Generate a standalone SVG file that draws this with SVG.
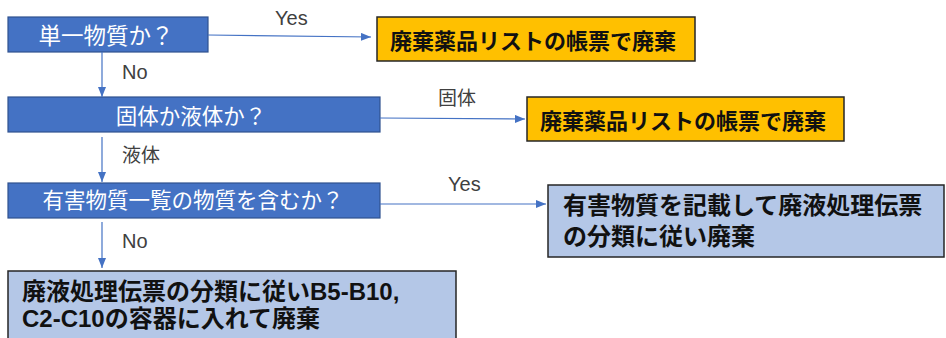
<svg xmlns="http://www.w3.org/2000/svg" width="946" height="338" viewBox="0 0 946 338">
<defs>
<marker id="ah" markerWidth="10" markerHeight="8" refX="10" refY="4" orient="auto" markerUnits="userSpaceOnUse">
<path d="M0,0 L10,4 L0,8 Z" fill="#4472C4"/>
</marker>
<style>
.q{fill:#4472C4;stroke:#2F528F;stroke-width:1.2}
.qt{fill:#fff;font-family:"Noto Sans CJK JP","Noto Sans",sans-serif;font-size:21.5px;text-anchor:middle;dominant-baseline:central}
.o{fill:#FFC000;stroke:#262626;stroke-width:1.5}
.r{fill:#B4C7E7;stroke:#262626;stroke-width:1.5}
.rt{fill:#111;font-family:"Noto Sans CJK JP","Noto Sans",sans-serif;font-weight:bold;dominant-baseline:central}
.rl{fill:#111;font-family:"Liberation Sans","Noto Sans CJK JP",sans-serif;font-weight:bold}
.lb{fill:#404040;font-family:"Liberation Sans","Noto Sans CJK JP",sans-serif;font-size:20px}
.lbj{fill:#404040;font-family:"Noto Sans CJK JP",sans-serif;font-size:19px}
.c{stroke:#4472C4;stroke-width:1.2;fill:none;marker-end:url(#ah)}
</style>
</defs>
<g id="n1"><rect class="q" x="8" y="17" width="200" height="35"/><text class="qt" x="106" y="34" style="font-size:22.5px">単一物質か？</text></g>
<g id="n2"><rect class="q" x="8" y="97" width="372" height="35"/><text class="qt" x="191" y="114">固体か液体か？</text></g>
<g id="n3"><rect class="q" x="8" y="183" width="372" height="35"/><text class="qt" x="193" y="198">有害物質一覧の物質を含むか？</text></g>
<g id="r1"><rect class="o" x="377" y="17" width="318" height="44"/><text class="rt" x="390" y="39" font-size="22">廃棄薬品リストの帳票で廃棄</text></g>
<g id="r2"><rect class="o" x="527" y="97" width="317" height="44"/><text class="rt" x="540" y="119" font-size="22">廃棄薬品リストの帳票で廃棄</text></g>
<g id="r3"><rect class="r" x="548" y="185" width="396" height="72"/><text class="rl" font-size="24"><tspan x="563" y="214">有害物質を記載して廃液処理伝票</tspan><tspan x="563" y="245">の分類に従い廃棄</tspan></text></g>
<g id="r4"><rect class="r" x="8" y="271" width="448" height="80"/><text class="rl" font-size="24"><tspan x="22" y="300">廃液処理伝票の分類に従いB5-B10,</tspan><tspan x="22" y="327">C2-C10の容器に入れて廃棄</tspan></text></g>
<g id="connectors">
<path class="c" d="M208,35 L371,37"/>
<path class="c" d="M102,52 L102,97"/>
<path class="c" d="M380,118 L525,119"/>
<path class="c" d="M102,137 L102,182"/>
<path class="c" d="M380,204 L546,204"/>
<path class="c" d="M102,222 L102,268"/>
<text class="lb" x="275" y="25">Yes</text>
<text class="lb" x="122" y="79">No</text>
<text class="lbj" x="438" y="105">固体</text>
<text class="lbj" x="122" y="162">液体</text>
<text class="lb" x="448" y="191">Yes</text>
<text class="lb" x="122" y="248">No</text>
</g>
</svg>
